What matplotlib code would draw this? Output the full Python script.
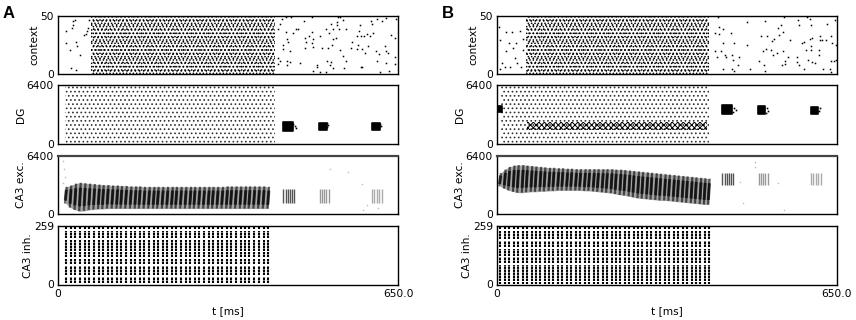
import matplotlib
matplotlib.use('Agg')
import matplotlib.pyplot as plt

# Dense spike regions cannot be read spike by spike, so they are drawn as a
# stipple hatch over the extents. Sparse dots are read by eye.
t_max = 650.0

# context: (start, end) of dense stimulus in ms
ctx_dense_a = (63, 415)
ctx_dense_b = (56, 405)
# sparse context spikes before and after the stimulus
ctx_a_t = [29, 32, 28, 26, 15, 15, 34, 37, 23, 42, 50, 54, 58, 24, 34, 60, 56,
           424, 428, 421, 436, 450, 455, 458, 471, 472, 480, 485, 487, 475, 485, 472, 487, 500, 504, 512, 519,
           522, 525, 533, 534, 538, 545, 551, 531, 525, 523, 517, 539, 545, 551, 514, 521, 496, 496, 520, 525,
           547, 488, 501, 512, 579, 582, 563, 561, 574, 579, 572, 575, 577, 590, 596, 585, 593, 571, 581, 587,
           607, 614, 603, 598, 601, 619, 610, 627, 636, 644, 646, 625, 628, 631, 644, 644, 628, 610, 633, 616,
           424, 438, 444, 463, 438, 430, 430, 444, 440, 437, 436, 445, 486, 535, 539, 421, 421]
ctx_a_v = [45, 46, 42, 39, 37, 26, 27, 24, 20, 16, 33, 34, 39, 5, 3, 46, 37,
           43, 47, 38, 36, 35, 38, 38, 45, 31, 32, 36, 30, 27, 26, 22, 23, 32, 22, 38, 35,
           43, 38, 44, 42, 38, 46, 38, 31, 30, 25, 22, 20, 15, 11, 11, 10, 7, 6, 7, 5,
           5, 2, 1, 1, 6, 6, 27, 22, 25, 32, 32, 37, 42, 34, 32, 32, 24, 21, 21, 18,
           19, 17, 35, 45, 43, 45, 47, 48, 33, 31, 47, 24, 19, 18, 14, 8, 9, 11, 2, 1,
           11, 11, 10, 9, 7, 25, 21, 19, 27, 30, 49, 49, 49, 49, 49, 13, 8]
ctx_b_t = [4, 17, 28, 6, 23, 36, 18, 31, 9, 15, 25, 39, 34, 6, 45, 50, 50, 44,
           417, 425, 433, 425, 447, 433, 454, 477, 478, 512, 543, 538, 505, 516, 530, 526, 540, 547, 561, 575,
           578, 599, 600, 630, 646, 584, 587, 599, 602, 618, 621, 629, 618, 638, 640, 648, 600, 591, 600, 615,
           417, 428, 435, 449, 438, 452, 463, 421, 433, 449, 460, 454, 484, 511, 512, 501, 508, 514, 524, 527,
           535, 546, 556, 551, 544, 551, 573, 573, 578, 586, 594, 603, 608, 616, 624, 638, 645, 637, 638, 648,
           422, 548, 593]
ctx_b_v = [40, 36, 36, 29, 26, 26, 19, 22, 9, 6, 6, 9, 13, 4, 6, 20, 30, 37,
           35, 40, 38, 34, 35, 26, 26, 44, 25, 45, 42, 39, 32, 32, 30, 28, 33, 36, 29, 46,
           42, 47, 42, 43, 46, 26, 27, 30, 31, 32, 29, 29, 29, 32, 26, 25, 24, 20, 20, 20,
           19, 19, 16, 16, 14, 12, 14, 14, 4, 4, 7, 2, 4, 7, 2, 11, 19, 21, 20, 16,
           18, 19, 14, 11, 7, 8, 14, 10, 7, 4, 12, 10, 9, 16, 4, 11, 11, 4, 1, 12,
           49, 49, 49]

# DG: extent of the sparse background, ms
dg_sparse_a = (13, 415)
dg_sparse_b = (7, 405)
# DG blobs: start, width in ms, bottom, height in cells
dg_a_blob_t = [430, 499, 600]
dg_a_blob_w = [20, 15, 15]
dg_a_blob_y = [1430, 1480, 1480]
dg_a_blob_h = [950, 800, 800]
dg_b_blob_t = [0, 430, 499, 600]
dg_b_blob_w = [10, 19, 13, 14]
dg_b_blob_y = [3550, 3300, 3300, 3300]
dg_b_blob_h = [620, 950, 900, 800]
dg_b_band = (58, 402, 1540, 2450)
# loose spikes trailing the blobs
dg_a_tail_t = [453, 455, 450, 517, 514, 515, 616, 614, 617]
dg_a_tail_v = [1975, 1719, 2194, 2084, 2267, 1900, 2194, 1828, 1975]
dg_b_tail_t = [454, 457, 452, 516, 519, 514, 618, 616]
dg_b_tail_v = [3913, 3730, 3547, 3913, 3657, 3437, 3913, 3657]

# CA3 inh: population burst times in ms
burst_a = [15, 24, 33, 42, 51, 60, 69, 78, 86, 95, 104, 113, 121, 130, 139, 148, 156, 165, 174, 183, 191, 200, 209,
           218, 226, 235, 244, 253, 261, 270, 279, 288, 296, 305, 314, 323, 331, 340, 349, 358, 366, 375, 384, 393, 402]
burst_b = [6, 15, 23, 32, 40, 49, 57, 66, 74, 83, 91, 100, 108, 117, 125, 134, 142, 151, 159, 168, 176, 185, 193, 202,
           210, 219, 227, 236, 244, 253, 261, 270, 278, 287, 295, 304, 312, 321, 329, 338, 346, 355, 363, 372, 380, 389, 397, 405]
inh_rows_a = [(5, 33), (43, 83), (91, 112), (120, 142), (150, 196), (204, 237), (245, 257)]
inh_rows_b = [(2, 9), (16, 87), (95, 120), (128, 156), (164, 193), (201, 237), (245, 257)]

# CA3 exc: envelope of every burst
exc_a_high = [3000, 3150, 3350, 3450, 3400, 3350, 3300, 3250, 3200, 3200, 3150, 3150, 3100, 3100, 3050, 3050, 3050, 3000,
              3000, 3000, 3000, 3000, 3000, 3000, 3000, 3000, 3000, 3000, 3000, 3000, 3000, 3000, 3000, 3000, 3000, 3050,
              3050, 3050, 3050, 3050, 3050, 3050, 3050, 3050, 3000]
exc_a_low = [1150, 700, 450, 300, 350, 450, 500, 550, 550, 600, 600, 600, 600, 600, 600, 600, 600, 600,
             600, 600, 600, 600, 600, 600, 600, 600, 600, 600, 600, 600, 600, 600, 600, 600, 600, 600,
             600, 600, 600, 600, 600, 600, 600, 600, 600]
exc_b_high = [4500, 4900, 5200, 5350, 5400, 5400, 5350, 5300, 5250, 5200, 5150, 5100, 5100, 5050, 5050, 5000, 5000, 4950,
              4950, 4950, 4950, 4950, 4950, 4950, 4950, 4950, 4900, 4900, 4850, 4800, 4750, 4700, 4650, 4600, 4550, 4500,
              4450, 4400, 4350, 4300, 4250, 4200, 4150, 4100, 4050, 4000, 3950, 3900]
exc_b_low = [3050, 2800, 2600, 2450, 2350, 2350, 2400, 2450, 2450, 2500, 2500, 2550, 2550, 2600, 2600, 2600, 2600, 2600,
             2600, 2550, 2550, 2500, 2450, 2400, 2350, 2300, 2200, 2100, 2050, 1950, 1850, 1750, 1700, 1650, 1600, 1550,
             1500, 1500, 1450, 1400, 1350, 1300, 1250, 1200, 1150, 1100, 1050, 1050]
# later replay bursts in CA3 exc
replay_t = [[431, 435, 439, 443, 447, 451], [500, 504, 508, 512, 518], [601, 605, 609, 613, 620]]
replay_colors = ['#555555', '#999999', '#aaaaaa']
replay_a = (1200, 2750)
replay_b = (3200, 4560)
# faint single spikes in CA3 exc
exc_a_faint_t = [10, 12, 13, 10, 520, 555, 581, 590, 584, 611]
exc_a_faint_v = [5800, 5000, 4100, 3400, 4965, 4671, 3273, 993, 441, 625]
exc_b_faint_t = [494, 493, 470, 549, 538, 465]
exc_b_faint_v = [5774, 5223, 1250, 441, 3384, 3568]

W, H = 856, 320
plt.rcParams['hatch.linewidth'] = 0.7
plt.rcParams['font.size'] = 7.7
fig = plt.figure(figsize=(W / 100, H / 100), dpi=100)


def make_axes(x0, y_top, y_bottom, ymax, label, last=False):
    ax = fig.add_axes([x0 / W, 1 - y_bottom / H, 340 / W, (y_bottom - y_top) / H])
    ax.set_xlim(0, t_max)
    ax.set_ylim(0, ymax)
    ax.set_yticks([0, ymax])
    ax.set_yticklabels(['0', str(ymax)], fontsize=7.7)
    ax.tick_params(length=0, pad=3)
    ax.set_ylabel(label, fontsize=7.7, labelpad=0.5)
    if last:
        ax.set_xticks([0, t_max])
        ax.set_xticklabels(['0', '650.0'], fontsize=7.7)
        ax.set_xlabel('t [ms]', fontsize=7.7, labelpad=5)
    else:
        ax.set_xticks([])
    for s in ax.spines.values():
        s.set_linewidth(1.0)
    return ax


def draw_panel(x0, letter, dense, t, v, sparse, blob, band, tail, bursts, high, low, rows, replay_y, faint):
    # context
    ax = make_axes(x0, 15.5, 73.5, 50, 'context')
    ax.axvspan(dense[0], dense[1], facecolor='none', edgecolor='black', hatch='.....', lw=0)
    ax.axvspan(dense[0], dense[1], facecolor='none', edgecolor='black', hatch='....', lw=0)
    ax.plot(t, v, 's', color='black', ms=1.1, mew=0)

    # DG
    ax = make_axes(x0, 85.5, 144, 6400, 'DG')
    ax.axvspan(sparse[0], sparse[1], facecolor='none', edgecolor='#333333', hatch='....', lw=0)
    if band is not None:
        ax.fill_between(band[:2], band[2], band[3], facecolor='none', edgecolor='black', hatch='xxxxxx', lw=0)
    ax.bar(blob[0], blob[3], width=blob[1], bottom=blob[2], align='edge', color='black',
           edgecolor='black', lw=1.2, joinstyle='round')
    ax.plot(tail[0], tail[1], 's', color='black', ms=1.2, mew=0)

    # CA3 exc
    ax = make_axes(x0, 156, 214, 6400, 'CA3 exc.')
    ax.spines['top'].set_linewidth(1.6)
    ax.spines['top'].set_color('#444444')
    ax.fill_between(bursts, low, high, color='black', alpha=0.35, lw=0)
    for tb, hi, lo in zip(bursts, high, low):
        mid, half = (hi + lo) / 2, (hi - lo) / 2
        ax.plot([tb - 1.5, tb + 1.5], [lo, hi], color='black', lw=1.6, alpha=0.6, solid_capstyle='butt')
        ax.plot([tb - 1, tb + 1], [mid - 0.65 * half, mid + 0.65 * half], color='black', lw=2.2, alpha=0.7,
                solid_capstyle='butt')
    for times, c in zip(replay_t, replay_colors):
        ax.vlines(times, replay_y[0], replay_y[1], color=c, lw=1.0)
    ax.plot(faint[0], faint[1], 's', color='#bbbbbb', ms=1.0, mew=0)

    # CA3 inh
    ax = make_axes(x0, 226, 284.5, 259, 'CA3 inh.', last=True)
    for lo, hi in rows:
        ax.vlines(bursts, lo, hi, color='black', lw=1.5, linestyles=(0, (1.2, 0.25)))

    fig.text((x0 - 55) / W, 1 - 13 / H, letter, fontsize=12, fontweight='bold',
             family='Liberation Sans', va='center', ha='left')


draw_panel(58, 'A', ctx_dense_a, ctx_a_t, ctx_a_v, dg_sparse_a,
           (dg_a_blob_t, dg_a_blob_w, dg_a_blob_y, dg_a_blob_h), None, (dg_a_tail_t, dg_a_tail_v),
           burst_a, exc_a_high, exc_a_low, inh_rows_a, replay_a, (exc_a_faint_t, exc_a_faint_v))
draw_panel(497, 'B', ctx_dense_b, ctx_b_t, ctx_b_v, dg_sparse_b,
           (dg_b_blob_t, dg_b_blob_w, dg_b_blob_y, dg_b_blob_h), dg_b_band, (dg_b_tail_t, dg_b_tail_v),
           burst_b, exc_b_high, exc_b_low, inh_rows_b, replay_b, (exc_b_faint_t, exc_b_faint_v))

fig.savefig('out.png', dpi=100)
